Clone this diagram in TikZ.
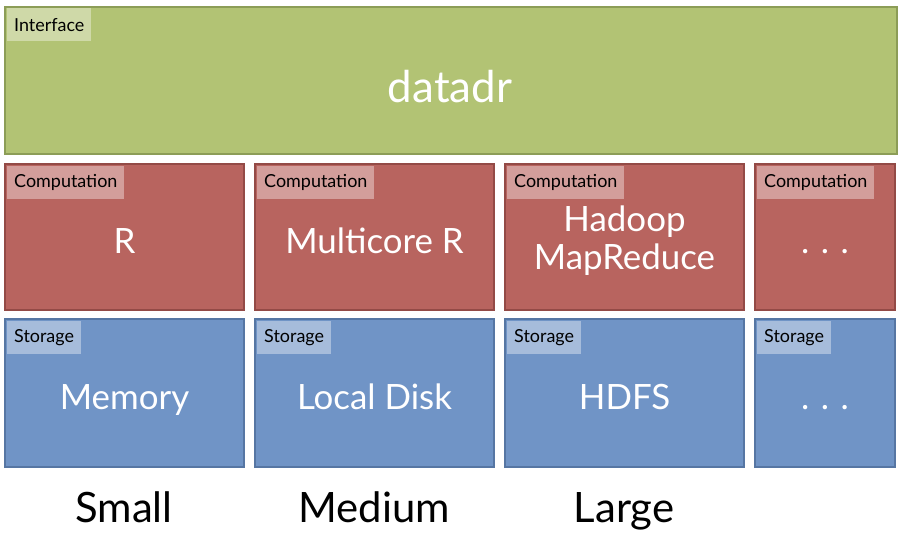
\documentclass[tikz,border=0pt]{standalone}
\usepackage{fontspec}
\setmainfont{Lato}
\definecolor{ifacefill}{HTML}{B2C374}
\definecolor{ifaceline}{HTML}{8C9D57}
\definecolor{compfill}{HTML}{B8645F}
\definecolor{compline}{HTML}{934A46}
\definecolor{storfill}{HTML}{7094C6}
\definecolor{storline}{HTML}{5676A3}
\tikzset{
  layer/.style={draw, line width=2bp, anchor=north west, inner sep=0pt},
  ifacebox/.style={layer, draw=ifaceline, fill=ifacefill},
  compbox/.style={layer, draw=compline, fill=compfill, minimum height=146bp},
  storbox/.style={layer, draw=storline, fill=storfill, minimum height=148bp},
  tag/.style={anchor=north west, fill=white, fill opacity=0.38, text opacity=1,
    text=black, inner xsep=7bp, inner ysep=0pt, minimum height=33bp,
    font=\fontsize{18}{20}\selectfont},
  biglabel/.style={anchor=base, text=white, align=center, font=\fontsize{35}{40}\selectfont},
  sizelabel/.style={anchor=base, text=black, font=\fontsize{42}{48}\selectfont}
}
\begin{document}
\begin{tikzpicture}[x=1bp,y=-1bp]
\useasboundingbox (0,0) rectangle (900,541);

% interface layer
\node[ifacebox, minimum width=892bp, minimum height=147bp] (iface) at (4,6) {};
\node[tag] (ifacetag) at (7,8) {Interface};
\node[anchor=base, text=white, font=\fontsize{44}{50}\selectfont] (datadr) at (450,103) {datadr};

% computation layer
\node[compbox, minimum width=239bp] (compA) at (4,163) {};
\node[compbox, minimum width=239bp] (compB) at (254,163) {};
\node[compbox, minimum width=239bp] (compC) at (504,163) {};
\node[compbox, minimum width=140bp] (compD) at (754,163) {};
\node[tag] (comptagA) at (7,166) {Computation};
\node[tag] (comptagB) at (257,166) {Computation};
\node[tag] (comptagC) at (507,166) {Computation};
\node[tag] (comptagD) at (757,166) {Computation};
\node[biglabel] (rlab) at (compA.center |- 0,254) {R};
\node[biglabel] (mclab) at (compB.center |- 0,254) {Multicore R};
\node[biglabel] (hdlab) at (compC.center |- 0,232) {Hadoop};
\node[biglabel] (mrlab) at (compC.center |- 0,270) {MapReduce};
\node[biglabel] (cdots) at (compD.center |- 0,254) {.\,\,.\,\,.};

% storage layer
\node[storbox, minimum width=239bp] (storA) at (4,318) {};
\node[storbox, minimum width=239bp] (storB) at (254,318) {};
\node[storbox, minimum width=239bp] (storC) at (504,318) {};
\node[storbox, minimum width=140bp] (storD) at (754,318) {};
\node[tag] (stortagA) at (7,321) {Storage};
\node[tag] (stortagB) at (257,321) {Storage};
\node[tag] (stortagC) at (507,321) {Storage};
\node[tag] (stortagD) at (757,321) {Storage};
\node[biglabel] (memlab) at (storA.center |- 0,409) {Memory};
\node[biglabel] (disklab) at (storB.center |- 0,409) {Local Disk};
\node[biglabel] (hdfslab) at (storC.center |- 0,409) {HDFS};
\node[biglabel] (sdots) at (storD.center |- 0,409) {.\,\,.\,\,.};

% data sizes
\node[sizelabel] (small) at (124,522) {Small};
\node[sizelabel] (medium) at (374,522) {Medium};
\node[sizelabel] (large) at (624,522) {Large};
\end{tikzpicture}
\end{document}
